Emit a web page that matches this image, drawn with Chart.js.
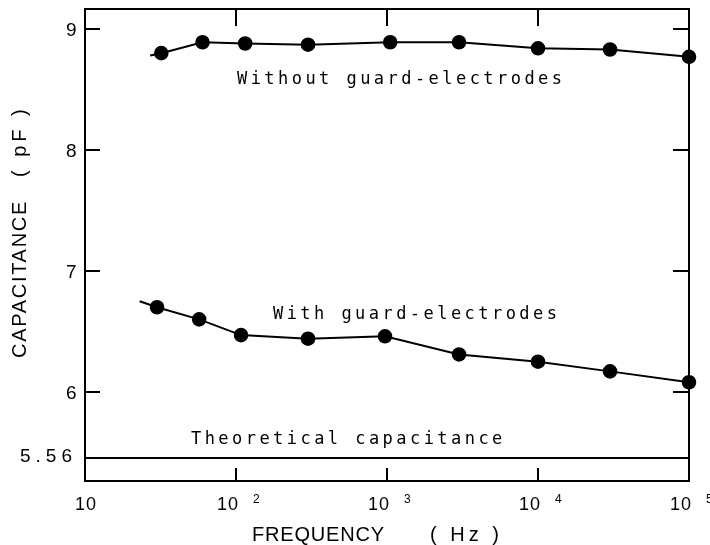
<!DOCTYPE html>
<html>
<head>
<meta charset="utf-8">
<script src="https://cdn.jsdelivr.net/npm/chart.js@4"></script>
<style>
  body { margin: 0; background: #fff; }
  #wrap { width: 710px; height: 545px; }
</style>
</head>
<body>
<div id="wrap"><canvas id="chart" width="710" height="545"></canvas></div>
<script>
// measured points (Hz, pF)
const freqWithout = [32, 60, 115, 300, 1050, 3000, 10000, 30000, 100000];
const capWithout = [8.80, 8.89, 8.88, 8.87, 8.89, 8.89, 8.84, 8.83, 8.77];
const freqWith = [30, 57, 108, 300, 970, 3000, 10000, 30000, 100000];
const capWith = [6.70, 6.60, 6.47, 6.44, 6.46, 6.31, 6.25, 6.17, 6.08];
// where the drawn curves start, left of the first dot
const leadWithout = [27, 8.78];
const leadWith = [23, 6.75];

const yTicks = [6, 7, 8, 9];
const xTicks = [10, 100, 1000, 10000, 100000];
const xExponents = ['', '2', '3', '4', '5'];
// y axis is broken below 6: the 5.56 pF line is drawn just under it
const theoryLabel = '5.56';
const theoryAt = 5.455;

const labels = {
  without: 'Without guard-electrodes',
  with: 'With guard-electrodes',
  theory: 'Theoretical capacitance'
};

function toPoints(lead, fs, cs) {
  return [{ x: lead[0], y: lead[1] }].concat(fs.map((f, i) => ({ x: f, y: cs[i] })));
}

const mono = '17px "DejaVu Sans Mono"';
const sans = '"Liberation Sans", "DejaVu Sans", sans-serif';

const decor = {
  id: 'decor',
  afterDraw(chart) {
    const ctx = chart.ctx;
    const a = chart.chartArea;
    const xs = chart.scales.x, ys = chart.scales.y;
    ctx.save();
    ctx.strokeStyle = '#000';
    ctx.fillStyle = '#000';
    ctx.lineWidth = 2;
    ctx.strokeRect(a.left, a.top, a.right - a.left, a.bottom - a.top);

    // inward ticks on all four sides
    ctx.beginPath();
    yTicks.forEach(v => {
      const y = ys.getPixelForValue(v);
      ctx.moveTo(a.left, y); ctx.lineTo(a.left + 15, y);
      ctx.moveTo(a.right, y); ctx.lineTo(a.right - 16, y);
    });
    xTicks.slice(1, -1).forEach(v => {
      const x = xs.getPixelForValue(v);
      ctx.moveTo(x, a.top); ctx.lineTo(x, a.top + 17);
      ctx.moveTo(x, a.bottom); ctx.lineTo(x, a.bottom - 13);
    });
    ctx.stroke();

    // y tick labels
    ctx.font = '19px ' + sans;
    ctx.letterSpacing = '5px';
    ctx.textAlign = 'left';
    ctx.textBaseline = 'middle';
    yTicks.forEach(v => ctx.fillText(String(v), 66, ys.getPixelForValue(v) + 2));
    ctx.fillText(theoryLabel, 20, ys.getPixelForValue(theoryAt) - 1);

    // x tick labels, 10 with exponent
    ctx.letterSpacing = '1px';
    ctx.textBaseline = 'alphabetic';
    xTicks.forEach((v, i) => {
      const x = xs.getPixelForValue(v);
      ctx.font = '18px ' + sans;
      if (!xExponents[i]) {
        ctx.textAlign = 'center';
        ctx.fillText('10', x + 1, 510);
      } else {
        ctx.textAlign = 'right';
        ctx.fillText('10', x + 3, 510);
        ctx.font = '12px ' + sans;
        ctx.textAlign = 'left';
        ctx.fillText(xExponents[i], x + 17, 503);
      }
    });

    // axis titles
    ctx.font = '20px ' + sans;
    ctx.textAlign = 'left';
    ctx.textBaseline = 'middle';
    ctx.letterSpacing = '0.8px';
    ctx.fillText('FREQUENCY', 252, 535);
    ctx.letterSpacing = '4px';
    ctx.fillText('( Hz )', 430, 535);
    ctx.save();
    ctx.translate(20, 0);
    ctx.rotate(-Math.PI / 2);
    ctx.letterSpacing = '1.7px';
    ctx.fillText('CAPACITANCE', -358, 0);
    ctx.letterSpacing = '4px';
    ctx.fillText('( pF )', -177, 0);
    ctx.restore();

    // curve annotations
    ctx.font = mono;
    ctx.letterSpacing = '3.45px';
    ctx.textAlign = 'left';
    ctx.fillText(labels.without, 237, 80);
    ctx.fillText(labels.with, 273, 315);
    ctx.fillText(labels.theory, 191, 440);
    ctx.restore();
  }
};

const pointSizes = n => [0].concat(new Array(n).fill(6.3));

new Chart(document.getElementById('chart'), {
  type: 'line',
  data: {
    datasets: [
      {
        data: toPoints(leadWithout, freqWithout, capWithout),
        borderColor: '#000', backgroundColor: '#000',
        borderWidth: 2, pointRadius: pointSizes(freqWithout.length), clip: false
      },
      {
        data: toPoints(leadWith, freqWith, capWith),
        borderColor: '#000', backgroundColor: '#000',
        borderWidth: 2, pointRadius: pointSizes(freqWith.length), clip: false
      },
      {
        data: [{ x: 10, y: theoryAt }, { x: 100000, y: theoryAt }],
        borderColor: '#000', borderWidth: 2, pointRadius: 0
      }
    ]
  },
  options: {
    responsive: false,
    animation: false,
    devicePixelRatio: 1,
    layout: { padding: { left: 85, right: 21, top: 9, bottom: 64 } },
    plugins: { legend: { display: false }, tooltip: { enabled: false } },
    scales: {
      x: { type: 'logarithmic', min: 10, max: 100000, display: false },
      y: { type: 'linear', min: 5.264, max: 9.165, display: false }
    }
  },
  plugins: [decor]
});
</script>
</body>
</html>
